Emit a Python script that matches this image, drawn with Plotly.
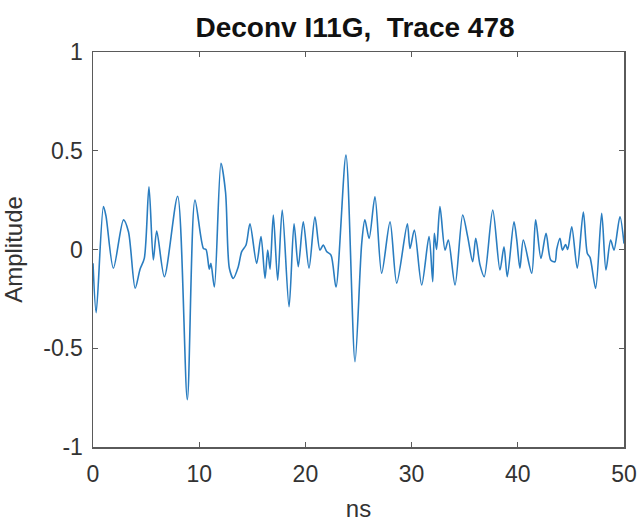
import plotly.graph_objects as go

time_ns = [0.0, 0.3, 0.98, 1.22, 1.92, 2.87, 3.34, 3.97, 4.43, 4.83, 5.27, 5.68, 6.0, 6.72,
           7.97, 8.88, 9.6, 10.4, 10.64, 10.95, 11.1, 11.43, 12.05, 12.48, 12.84, 13.21, 13.68,
           14.0, 14.41, 14.78, 15.41, 15.82, 16.2, 16.45, 16.67, 16.98, 17.39, 17.82, 18.46,
           18.93, 19.33, 19.8, 20.34, 20.9, 21.37, 21.68, 22.0, 22.41, 22.88, 23.82, 24.67,
           25.3, 25.6, 26.0, 26.55, 27.18, 27.97, 28.6, 29.6, 29.85, 30.26, 30.95, 31.64,
           31.99, 32.14, 32.35, 32.67, 33.15, 33.46, 34.09, 34.81, 35.28, 35.75, 36.04, 36.44,
           36.84, 37.64, 38.32, 38.7, 39.01, 39.64, 39.9, 40.2, 40.52, 41.31, 41.68, 42.18,
           42.66, 43.1, 43.5, 43.66, 43.97, 44.2, 44.5, 44.7, 45.08, 45.6, 46.17, 46.55, 46.8,
           47.33, 47.9, 48.3, 48.74, 49.06, 49.62, 50.0]
amplitude = [-0.07, -0.32, 0.217, 0.17, -0.095, 0.15, 0.09, -0.196, -0.10, -0.045, 0.318, -0.053,
             0.094, -0.138, 0.27, -0.76, 0.25, 0.005, 0.0, -0.10, -0.07, -0.19, 0.436, 0.29,
             -0.095, -0.146, -0.087, -0.011, 0.023, 0.13, -0.07, 0.065, -0.146, -0.003, -0.10,
             0.175, -0.155, 0.20, -0.29, 0.13, -0.087, 0.14, -0.095, 0.166, -0.003, 0.023, -0.01,
             -0.028, -0.19, 0.478, -0.568, 0.03, 0.15, 0.056, 0.267, -0.12, 0.14, -0.17, 0.13,
             0.005, 0.099, -0.18, 0.065, -0.163, 0.082, 0.0, 0.217, -0.003, 0.048, -0.18, 0.175,
             0.065, -0.062, 0.057, -0.078, -0.138, 0.20, -0.104, 0.014, -0.138, 0.14, 0.05,
             -0.095, 0.048, -0.12, 0.15, -0.045, 0.082, -0.053, -0.062, 0.0, 0.057, -0.003, 0.025,
             0.0, 0.115, -0.095, 0.19, -0.02, -0.04, -0.196, 0.183, -0.104, 0.048, -0.003, 0.166,
             0.03]

x_ticks = [0, 10, 20, 30, 40, 50]
y_ticks = [-1, -0.5, 0, 0.5, 1]
y_tick_labels = ["-1", "-0.5", "0", "0.5", "1"]

FONT = "Liberation Sans, Arial, sans-serif"

fig = go.Figure()
fig.add_trace(go.Scatter(
    x=time_ns, y=amplitude, mode="lines",
    line=dict(color="#2a7dc0", width=1.6, shape="spline", smoothing=0.8),
    showlegend=False, hoverinfo="skip",
))

axis_common = dict(
    showline=True, mirror="ticks", linecolor="#5a5a5a", linewidth=1.5,
    ticks="inside", ticklen=5, tickwidth=1, tickcolor="#5a5a5a",
    showgrid=False, zeroline=False, automargin=False,
    tickfont=dict(family=FONT, size=23, color="#333333"),
)

fig.update_layout(
    width=640, height=522,
    margin=dict(l=93, r=16, t=52, b=75),
    paper_bgcolor="white", plot_bgcolor="white",
    title=dict(text="<b>Deconv I11G,  Trace 478</b>", x=355 / 640, xanchor="center", xref="container",
               y=1 - 27 / 522, yanchor="middle", yref="container", automargin=False,
               font=dict(family=FONT, size=28, color="#111111")),
    xaxis=dict(range=[0, 50], tickvals=x_ticks, ticktext=[str(t) for t in x_ticks],
               ticklabelstandoff=6,
               title=dict(text="ns", standoff=17,
                          font=dict(family=FONT, size=24, color="#333333")),
               **axis_common),
    yaxis=dict(range=[-1, 1], tickvals=y_ticks, ticktext=y_tick_labels,
               ticklabelstandoff=4,
               title=dict(text="Amplitude", standoff=14,
                          font=dict(family=FONT, size=24, color="#333333")),
               **axis_common),
)

fig.write_html("out.html",
               config={"displayModeBar": False, "staticPlot": True},
               post_script="document.body.style.margin='0px';document.body.style.padding='0px';")
